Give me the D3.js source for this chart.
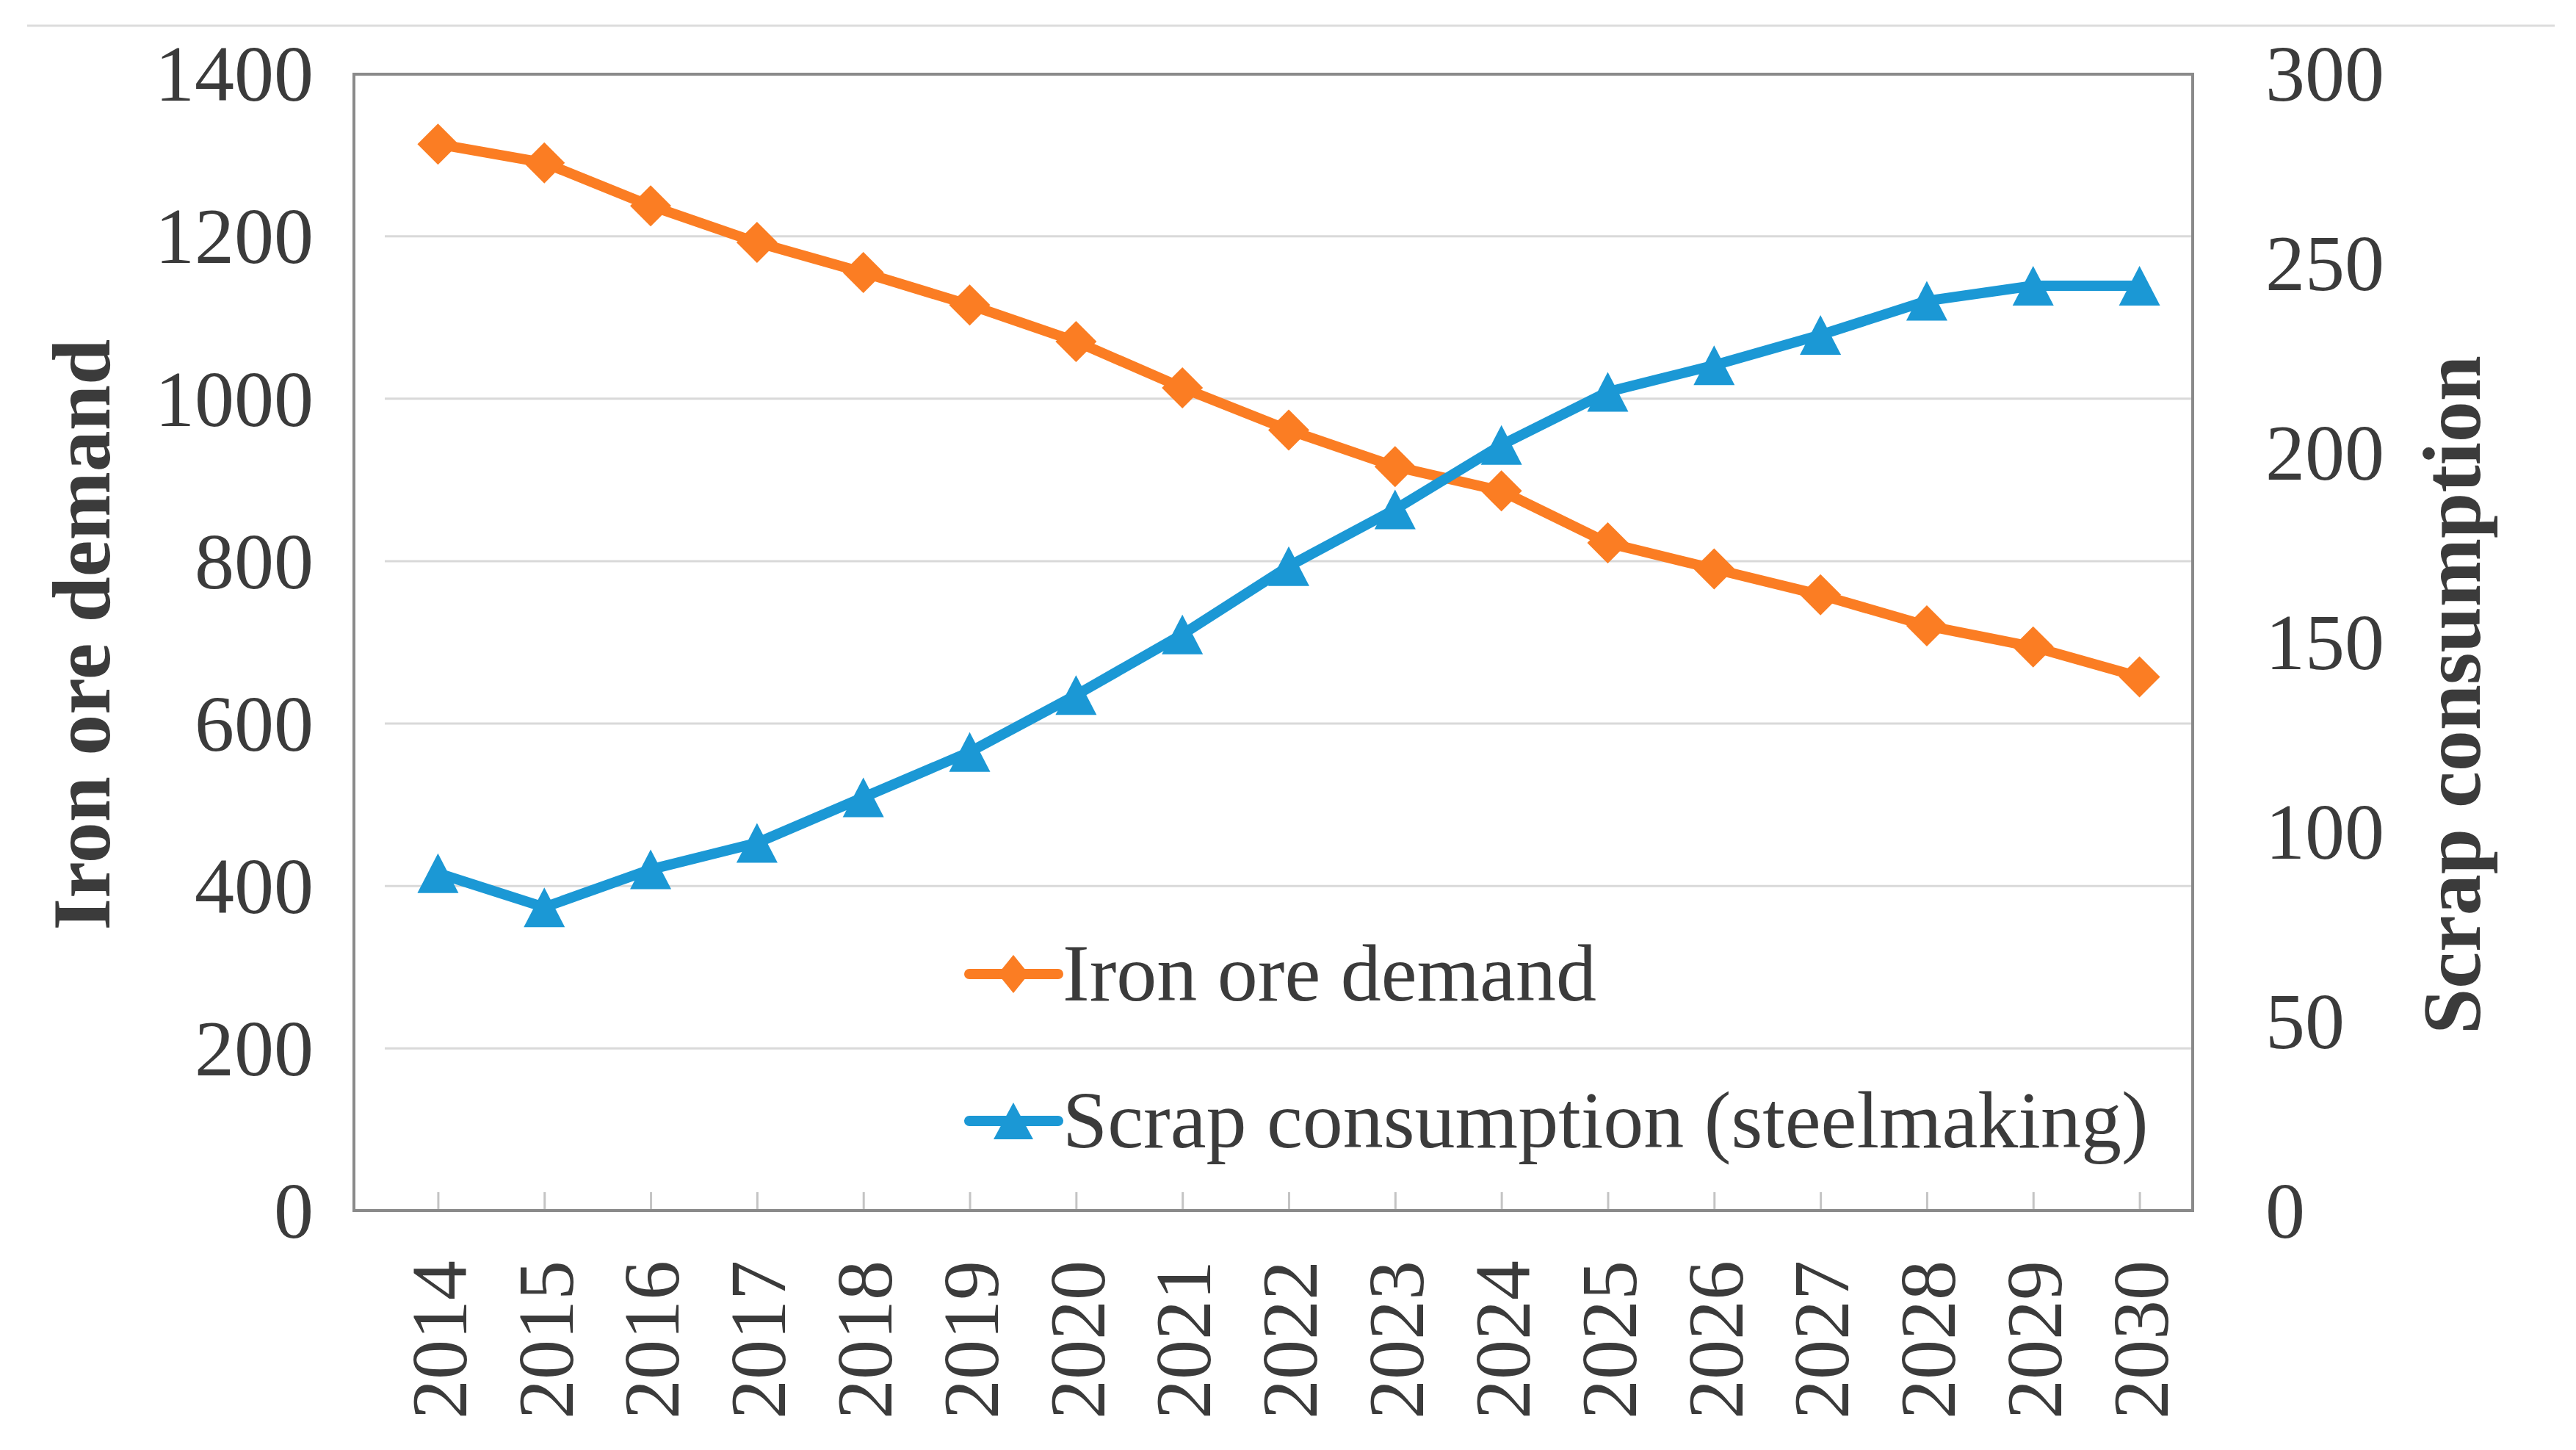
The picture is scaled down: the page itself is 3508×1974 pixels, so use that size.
<!DOCTYPE html>
<html>
  <head>
    <meta http-equiv="Content-Type" content="text/html; charset=UTF-8">
    <script type="text/javascript" src="https://cdn.jsdelivr.net/npm/d3@7/dist/d3.min.js"></script>
    <style>
      body { margin: 0; background: #fff; }
      text { font-family: "Liberation Serif", "Times New Roman", serif; fill: #3b3b3b; }
    </style>
  </head>
  <body>
    <div id="chart"></div>
    <script>
// data
var years = ["2014", "2015", "2016", "2017", "2018", "2019", "2020", "2021", "2022",
             "2023", "2024", "2025", "2026", "2027", "2028", "2029", "2030"];
var ironOre = [1313, 1290, 1237, 1192, 1155, 1115, 1070, 1013, 961, 916, 886, 822, 790, 758, 720, 694, 657];
var scrap = [89, 80, 90, 97, 109, 121, 136, 152, 170, 185, 202, 216, 223, 231, 240, 244, 244];
var leftTicks = [0, 200, 400, 600, 800, 1000, 1200, 1400];
var rightTicks = [0, 50, 100, 150, 200, 250, 300];
var seriesNames = ["Iron ore demand", "Scrap consumption (steelmaking)"];
var axisTitles = ["Iron ore demand", "Scrap consumption"];

var width = 3508,
    height = 1974;
var frame = {left: 482, right: 2986, top: 101, bottom: 1648};
var plotLeft = 524; // gridlines and categories start a bit inside the frame
var orange = "#fb7d23",
    blue = "#1b98d5";

var svg = d3.select("#chart").append("svg")
    .attr("width", width)
    .attr("height", height);

var x = d3.scalePoint().domain(years).range([plotLeft, frame.right]).padding(0.5);
var yL = d3.scaleLinear().domain([0, 1400]).range([frame.bottom, frame.top - 1]);
var yR = d3.scaleLinear().domain([0, 300]).range([frame.bottom, frame.top - 1]);

// thin line across the top of the picture
svg.append("line")
    .attr("x1", 37).attr("x2", 3479)
    .attr("y1", 35).attr("y2", 35)
    .attr("stroke", "#dcdcdc")
    .attr("stroke-width", 3);

// gridlines
var grid = svg.append("g")
    .attr("transform", "translate(" + frame.right + ",0)")
    .call(d3.axisLeft(yL).tickValues(leftTicks.slice(1, -1)).tickSize(frame.right - plotLeft).tickFormat(""));
grid.select(".domain").remove();
grid.selectAll("line").attr("stroke", "#d9d9d9").attr("stroke-width", 3);

// category tick marks, pointing up from the bottom
var tickG = svg.append("g")
    .attr("transform", "translate(0," + frame.bottom + ")")
    .call(d3.axisTop(x).tickSize(25).tickFormat(""));
tickG.select(".domain").remove();
tickG.selectAll("line").attr("stroke", "#c4c4c4").attr("stroke-width", 3);

// frame
svg.append("rect")
    .attr("x", frame.left)
    .attr("y", frame.top)
    .attr("width", frame.right - frame.left)
    .attr("height", frame.bottom - frame.top)
    .attr("fill", "none")
    .attr("stroke", "#8a8a8a")
    .attr("stroke-width", 4);

// left axis labels
var left = svg.append("g")
    .attr("transform", "translate(" + frame.left + ",0)")
    .call(d3.axisLeft(yL).tickValues(leftTicks).tickFormat(d3.format("d")).tickSize(0).tickPadding(55));
left.select(".domain").remove();
left.selectAll("text")
    .attr("font-size", 108)
    .attr("dy", "0.34em")
    .style("font-family", "Liberation Serif")
    .style("fill", "#3b3b3b");

// right axis labels
var right = svg.append("g")
    .attr("transform", "translate(" + frame.right + ",0)")
    .call(d3.axisRight(yR).tickValues(rightTicks).tickFormat(d3.format("d")).tickSize(0).tickPadding(99));
right.select(".domain").remove();
right.selectAll("text")
    .attr("font-size", 108)
    .attr("dy", "0.34em")
    .style("font-family", "Liberation Serif")
    .style("fill", "#3b3b3b");

// bottom axis labels, turned
var bottom = svg.append("g")
    .attr("transform", "translate(0," + frame.bottom + ")")
    .call(d3.axisBottom(x).tickSize(0));
bottom.select(".domain").remove();
bottom.selectAll("text")
    .attr("font-size", 108)
    .attr("x", 0)
    .attr("y", 0)
    .attr("dy", "0.35em")
    .attr("text-anchor", "end")
    .attr("transform", "translate(0,68) rotate(-90)")
    .style("font-family", "Liberation Serif")
    .style("fill", "#3b3b3b");

// axis titles
svg.append("text")
    .attr("transform", "translate(149,864) rotate(-90)")
    .attr("text-anchor", "middle")
    .attr("font-size", 112)
    .attr("font-weight", "bold")
    .text(axisTitles[0]);

svg.append("text")
    .attr("transform", "translate(3377,946) rotate(-90)")
    .attr("text-anchor", "middle")
    .attr("font-size", 112)
    .attr("font-weight", "bold")
    .text(axisTitles[1]);

// marker shapes
var diamond = function (hw, hh) {
  return {draw: function (ctx) {
    ctx.moveTo(0, -hh); ctx.lineTo(hw, 0); ctx.lineTo(0, hh); ctx.lineTo(-hw, 0); ctx.closePath();
  }};
};
var triangle = function (hw, hh) {
  return {draw: function (ctx) {
    ctx.moveTo(0, -hh); ctx.lineTo(hw, hh); ctx.lineTo(-hw, hh); ctx.closePath();
  }};
};

var series = [
  {name: seriesNames[0], values: ironOre, y: yL, color: orange, shape: diamond(28, 28), legendShape: diamond(21, 26)},
  {name: seriesNames[1], values: scrap, y: yR, color: blue, shape: triangle(28, 27), legendShape: triangle(27, 25)}
];

series.forEach(function (s) {
  var line = d3.line()
      .x(function (d, i) { return x(years[i]); })
      .y(function (d) { return s.y(d); });

  svg.append("path")
      .datum(s.values)
      .attr("fill", "none")
      .attr("stroke", s.color)
      .attr("stroke-width", 14)
      .attr("stroke-linejoin", "round")
      .attr("d", line);

  svg.append("g").selectAll("path")
      .data(s.values)
    .enter().append("path")
      .attr("fill", s.color)
      .attr("transform", function (d, i) { return "translate(" + x(years[i]) + "," + s.y(d) + ")"; })
      .attr("d", d3.symbol().type(s.shape));
});

// legend
var legend = svg.append("g").selectAll(".legend")
    .data(series)
  .enter().append("g")
    .attr("class", "legend")
    .attr("transform", function (d, i) { return "translate(1320," + (1326 + i * 200) + ")"; });

legend.append("line")
    .attr("x1", 0).attr("x2", 121)
    .attr("y1", 0).attr("y2", 0)
    .attr("stroke", function (d) { return d.color; })
    .attr("stroke-width", 14)
    .attr("stroke-linecap", "round");

legend.append("path")
    .attr("transform", "translate(60,0)")
    .attr("fill", function (d) { return d.color; })
    .attr("d", function (d) { return d3.symbol().type(d.legendShape)(); });

legend.append("text")
    .attr("x", 127)
    .attr("y", 36)
    .attr("font-size", 110)
    .text(function (d) { return d.name; });
    </script>
  </body>
</html>
